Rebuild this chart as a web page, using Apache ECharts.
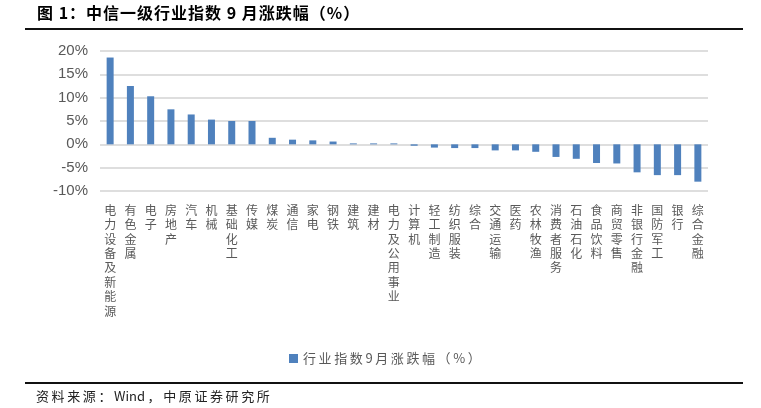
<!DOCTYPE html>
<html>
<head>
<meta charset="utf-8">
<script src="https://cdn.jsdelivr.net/npm/echarts@6/dist/echarts.min.js"></script>
<style>
html,body{margin:0;padding:0;background:#fff;}
#c{width:761px;height:408px;}
</style>
</head>
<body>
<div id="c"></div>
<script>
var categories = ['电力设备及新能源','有色金属','电子','房地产','汽车','机械','基础化工','传媒','煤炭','通信','家电','钢铁','建筑','建材','电力及公用事业','计算机','轻工制造','纺织服装','综合','交通运输','医药','农林牧渔','消费者服务','石油石化','食品饮料','商贸零售','非银行金融','国防军工','银行','综合金融'];
var values = [18.6,12.5,10.3,7.5,6.4,5.3,5.0,5.0,1.4,1.0,0.85,0.6,0.2,0.2,0.2,-0.3,-0.7,-0.8,-0.8,-1.3,-1.3,-1.6,-2.7,-3.1,-4.0,-4.1,-6.0,-6.6,-6.6,-8.0];
var yTicks = {min:-10, max:20, interval:5};
var seriesName = '行业指数9月涨跌幅（%）';
var titleText = '图 1：中信一级行业指数 9 月涨跌幅（%）';
var sourceText = '资料来源：Wind，中原证券研究所';

function spaced(s, sp){
  var ch = s.split(''), out = ch[0];
  for (var i = 1; i < ch.length; i++) {
    var a = ch[i-1], b = ch[i];
    var latin = /[A-Za-z]/.test(a) && /[A-Za-z]/.test(b);
    out += (latin ? '' : sp) + b;
  }
  return out;
}

var chart = echarts.init(document.getElementById('c'));
chart.setOption({
  animation:false,
  backgroundColor:'#fff',
  grid:{left:100,right:53,top:51,height:140},
  legend:{
    data:[seriesName],
    left:284, top:347,
    itemWidth:9,itemHeight:9,itemGap:7,
    icon:'rect',
    formatter:function(n){return spaced(n,'\u2009');},
    textStyle:{fontSize:13,color:'#595959',fontFamily:'"Noto Sans CJK SC", sans-serif'}
  },
  xAxis:{
    type:'category',
    data:categories,
    axisLine:{show:false},
    axisTick:{show:false},
    axisLabel:{
      interval:0,
      margin:12,
      verticalAlign:'top',
      fontSize:12,
      lineHeight:14.4,
      color:'#595959',
      fontFamily:'"Noto Sans CJK SC", sans-serif',
      formatter:function(v){return v.split('').join('\n');}
    }
  },
  yAxis:{
    type:'value',
    min:yTicks.min,max:yTicks.max,interval:yTicks.interval,
    axisLine:{show:false},
    axisTick:{show:false},
    splitLine:{lineStyle:{color:'#dedede',width:2}},
    axisLabel:{
      margin:12,
      fontSize:15,
      color:'#595959',
      fontFamily:'"Liberation Sans", Arial, sans-serif',
      formatter:function(v){return v+'%';}
    }
  },
  series:[{
    name:seriesName,
    type:'bar',
    data:values,
    barWidth:7,
    itemStyle:{color:'#4f81bd'}
  }],
  graphic:[
    {type:'text',left:37,top:5,style:{text:spaced(titleText,'\u200A'),fontSize:16,fontWeight:'bold',fill:'#000',fontFamily:'"Noto Sans CJK SC", sans-serif'}},
    {type:'rect',shape:{x:25,y:28,width:718,height:2},style:{fill:'#111'}},
    {type:'rect',shape:{x:25,y:382,width:718,height:2},style:{fill:'#111'}},
    {type:'text',left:36,top:390,style:{text:spaced(sourceText,'\u2009'),fontSize:13,fill:'#222',fontFamily:'"Noto Sans CJK SC", sans-serif'}}
  ]
});
</script>
</body>
</html>
